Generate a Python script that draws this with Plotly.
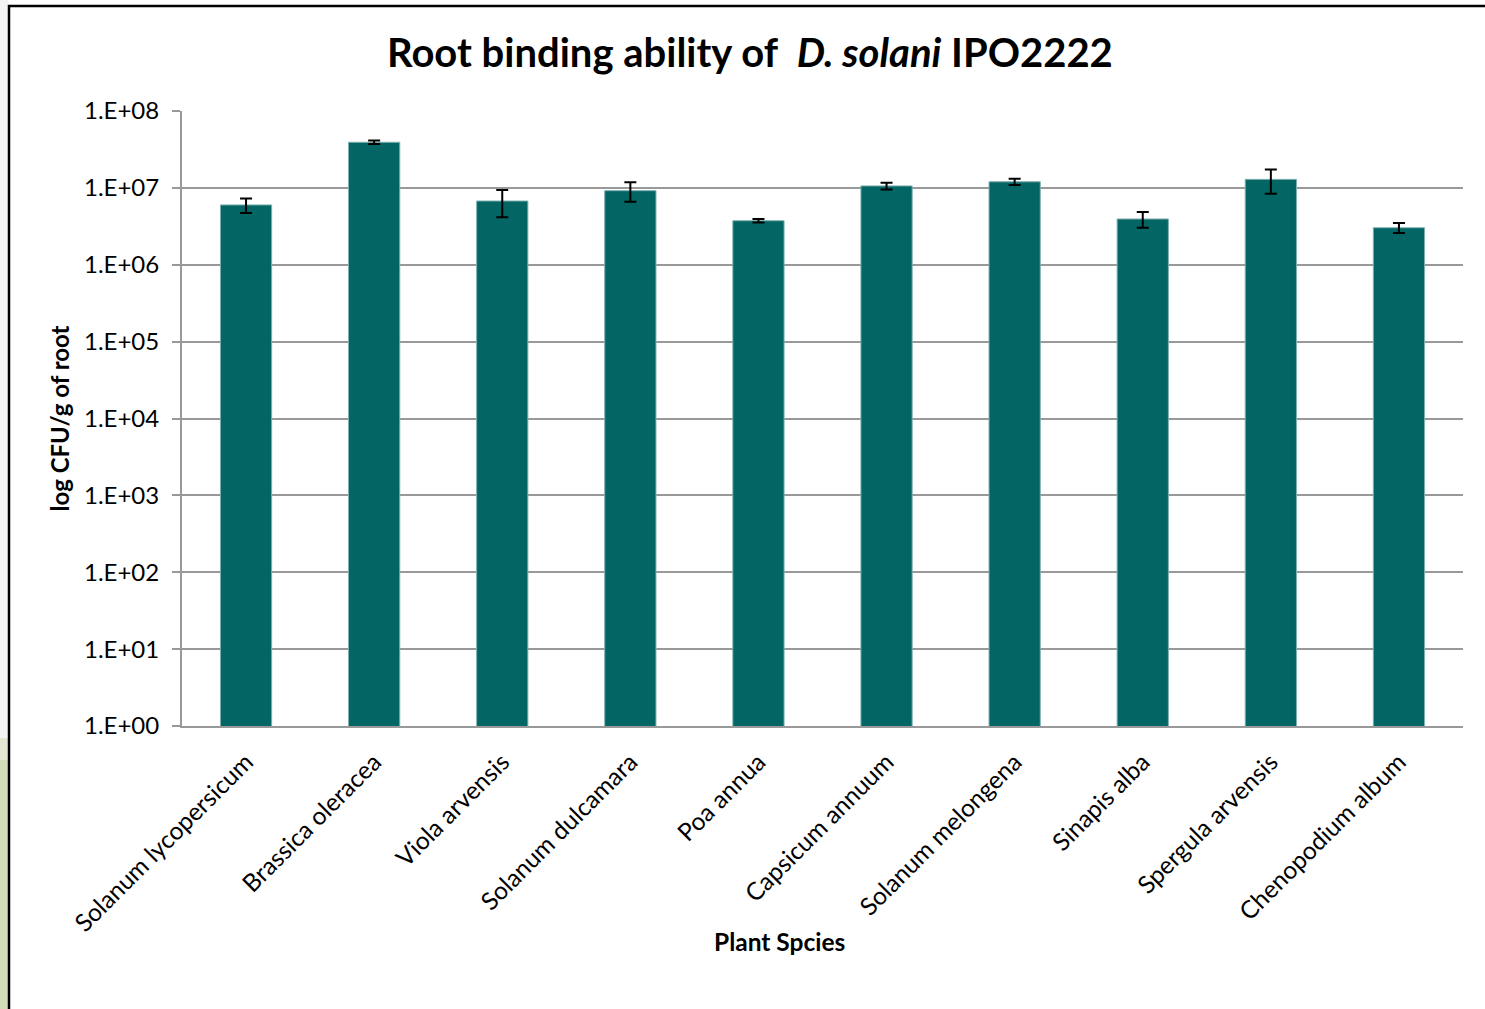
import plotly.graph_objects as go

species = [
    "Solanum lycopersicum", "Brassica oleracea", "Viola arvensis",
    "Solanum dulcamara", "Poa annua", "Capsicum annuum",
    "Solanum melongena", "Sinapis alba", "Spergula arvensis",
    "Chenopodium album",
]
cfu_per_g = [6.0e6, 3.92e7, 6.75e6, 9.2e6, 3.74e6, 1.06e7, 1.2e7, 3.94e6, 1.29e7, 3.03e6]
cfu_err = [1.3e6, 2.0e6, 2.6e6, 2.6e6, 0.2e6, 1.1e6, 1.1e6, 0.9e6, 4.5e6, 0.45e6]

tick_vals = [1e0, 1e1, 1e2, 1e3, 1e4, 1e5, 1e6, 1e7, 1e8]
tick_text = ["1.E+00", "1.E+01", "1.E+02", "1.E+03", "1.E+04",
             "1.E+05", "1.E+06", "1.E+07", "1.E+08"]

W, H = 1485, 1009
L, R, T, B = 182, 22, 111, 283
FONT = "Lato, 'Open Sans', sans-serif"

fig = go.Figure(go.Bar(
    x=species, y=cfu_per_g,
    marker=dict(color="#036564", line=dict(color="#7fb0b0", width=1)),
    error_y=dict(type="data", array=cfu_err, visible=True,
                 color="black", thickness=2, width=6),
))

# helpers to place frame decorations in pixel terms
def px(x):
    return (x - L) / (W - L - R)

def py(y):
    return 1 - (y - T) / (H - T - B)

shapes = [
    # slide background strip at the far left
    dict(type="rect", xref="paper", yref="paper", x0=px(0), x1=px(8),
         y0=py(0), y1=py(738), fillcolor="#f4f4f4", line_width=0, layer="below"),
    dict(type="rect", xref="paper", yref="paper", x0=px(0), x1=px(8),
         y0=py(738), y1=py(760), fillcolor="#e2e8d2", line_width=0, layer="below"),
    dict(type="rect", xref="paper", yref="paper", x0=px(0), x1=px(8),
         y0=py(760), y1=py(H), fillcolor="#d3dcb8", line_width=0, layer="below"),
    # chart frame
    dict(type="rect", xref="paper", yref="paper", x0=px(9), x1=px(W + 5),
         y0=py(6), y1=py(H + 5), line=dict(color="black", width=2.5),
         fillcolor="rgba(0,0,0,0)"),
]

fig.update_layout(
    width=W, height=H,
    margin=dict(l=L, r=R, t=T, b=B),
    paper_bgcolor="white", plot_bgcolor="white",
    bargap=0.6,
    showlegend=False,
    font=dict(family=FONT, color="black"),
    title=dict(
        text="<b>Root binding ability of &nbsp;<i>D. solani</i> IPO2222</b>",
        x=0.505, xanchor="center", y=1 - 53 / H, yanchor="middle",
        font=dict(size=40, family=FONT, color="black"),
    ),
    shapes=shapes,
    annotations=[
        # x-axis title, placed slightly left of the plot centre
        dict(text="<b>Plant Spcies</b>", xref="paper", yref="paper",
             x=px(779), y=py(941), xanchor="center", yanchor="middle",
             showarrow=False, font=dict(size=24.5, family=FONT, color="black")),
    ],
)

fig.update_yaxes(
    type="log", range=[0, 8],
    tickvals=tick_vals, ticktext=tick_text,
    tickfont=dict(size=24, family=FONT),
    ticks="outside", ticklen=8, tickcolor="#999999", tickwidth=2,
    ticklabelstandoff=8,
    showline=True, linecolor="#999999", linewidth=2,
    showgrid=True, gridcolor="#999999", gridwidth=2,
    zeroline=False,
    title=dict(text="<b>log CFU/g of root</b>", font=dict(size=24, family=FONT), standoff=8),
)

fig.update_xaxes(
    tickangle=-45,
    tickfont=dict(size=24.5, family=FONT),
    ticklabelstandoff=10,
    showline=True, linecolor="#999999", linewidth=2,
    ticks="",
)

fig.write_html("out.html")
